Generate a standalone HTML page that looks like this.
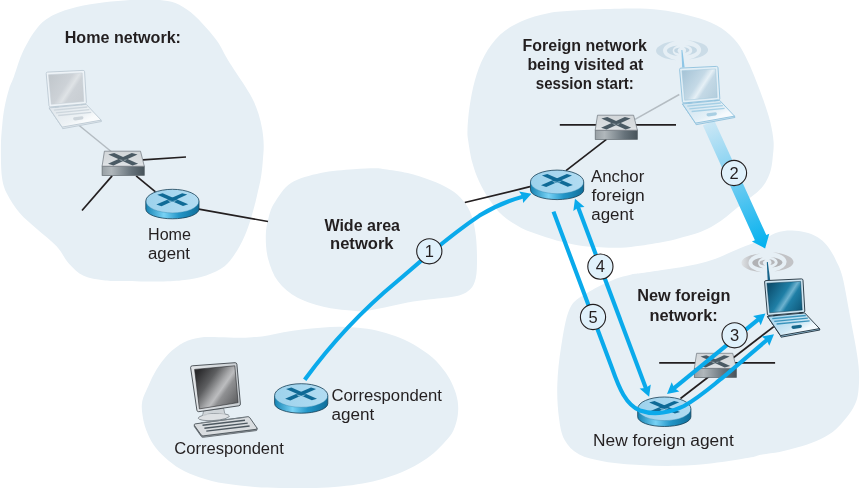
<!DOCTYPE html>
<html><head><meta charset="utf-8">
<style>
html,body{margin:0;padding:0;background:#fff;}
svg{display:block;}
text{font-family:"Liberation Sans",sans-serif;fill:#231f20;}
.b{font-weight:bold;}
</style></head><body>
<div style="will-change:transform;width:861px;height:488px;overflow:hidden">
<svg width="861" height="488" viewBox="0 0 861 488">
<defs>
  <linearGradient id="rside" x1="0" x2="1" y1="0" y2="0">
    <stop offset="0" stop-color="#1583b3"/><stop offset="0.34" stop-color="#78d2f5"/><stop offset="0.62" stop-color="#2396c8"/><stop offset="1" stop-color="#0f6e9a"/>
  </linearGradient>
  <linearGradient id="rtop" x1="0" x2="1" y1="0" y2="0">
    <stop offset="0" stop-color="#9dd2ec"/><stop offset="1" stop-color="#b2dcf2"/>
  </linearGradient>
  <linearGradient id="sfront" x1="0" x2="1" y1="0" y2="0">
    <stop offset="0" stop-color="#98a0a5"/><stop offset="0.22" stop-color="#b0b7bb"/><stop offset="0.7" stop-color="#66727a"/><stop offset="1" stop-color="#48545b"/>
  </linearGradient>
  <linearGradient id="stop" x1="0" x2="0" y1="0" y2="1">
    <stop offset="0" stop-color="#d2d6d9"/><stop offset="0.8" stop-color="#dadee1"/><stop offset="1" stop-color="#e6e9eb"/>
  </linearGradient>
  <linearGradient id="a2" gradientUnits="userSpaceOnUse" x1="708.6" y1="123" x2="765" y2="248">
    <stop offset="0" stop-color="#cbe7f5"/><stop offset="0.4" stop-color="#7fd0f2"/><stop offset="0.78" stop-color="#2ebcf0"/><stop offset="1" stop-color="#00b0ee"/>
  </linearGradient>
  <g id="router">
    <path d="M-26.6,0 v8 a26.6,9.7 0 0 0 53.2,0 v-8 z" fill="url(#rside)"/>
    <ellipse cx="0" cy="0" rx="26.6" ry="11.8" fill="url(#rtop)"/>
    <path d="M-26.6,8 a26.6,9.7 0 0 0 53.2,0 v-8 a26.6,11.8 0 0 0 -53.2,0 z" fill="none" stroke="#173f55" stroke-width="0.8"/>
    <path d="M-26.6,0 a26.6,11.8 0 0 0 53.2,0" fill="none" stroke="#2f86ae" stroke-width="0.4"/>
    <path d="M-15.2,-6.4 L-9.8,-7.9 L15.8,3.2 L10.6,4.8 Z" fill="#0f6a96"/>
    <path d="M9.8,-7.9 L14.9,-6.5 L-10.9,5.05 L-16.1,3.3 Z" fill="#0f6a96"/>
    <path d="M-5.2,-1.15 L0,-0.1 L-2.3,1.15 Z M4.9,-1.15 L0,-0.1 L2,0.9 Z" fill="#7ab4d0"/>
  </g>
  <g id="switch">
    <rect x="-21.1" y="7.5" width="42.2" height="9.2" fill="url(#sfront)" stroke="#5f686e" stroke-width="0.7"/>
    <path d="M-18.8,-7.5 L17.3,-7.5 L21.1,7.5 L-21.1,7.5 Z" fill="url(#stop)" stroke="#6e767c" stroke-width="0.7" stroke-linejoin="round"/>
    <path d="M-14.9,-4.2 L-9,-5.6 L14.9,5.1 L9.3,6.7 Z" fill="#4a5a64"/>
    <path d="M-15.2,5.1 L-9.7,6.7 L14.3,-4.2 L8.6,-5.6 Z" fill="#4a5a64"/>
    <path d="M-4.5,0.6 L0,1.3 L-2,2.4 Z M4.3,0.6 L0,1.3 L1.8,2.3 Z" fill="#93a0a7"/>
  </g>
</defs>
<g fill="#e6eff5">
<path id="homeblob" d="M104.5,2.3 C113.4,1.1 122.9,0.5 130.0,0.0 C137.1,-0.5 142.0,-0.8 147.0,-0.8 C152.0,-0.8 155.3,-0.6 160.0,0.0 C164.7,0.6 170.3,0.9 175.4,3.0 C180.5,5.1 185.7,8.2 190.8,12.3 C195.9,16.4 201.6,22.6 206.2,27.7 C210.8,32.8 215.2,38.1 218.5,43.0 C221.8,47.9 223.6,52.6 226.2,57.0 C228.8,61.4 231.0,64.9 233.8,69.2 C236.6,73.5 239.9,78.1 243.0,83.0 C246.1,87.9 249.7,93.4 252.3,98.5 C254.9,103.6 256.9,108.7 258.5,113.8 C260.1,118.9 261.3,124.0 262.2,129.2 C263.1,134.4 263.6,140.1 263.7,145.0 C263.8,149.9 263.4,153.2 263.0,158.5 C262.6,163.8 262.0,170.8 261.0,177.0 C260.0,183.2 258.4,189.3 257.0,195.4 C255.6,201.5 254.1,207.7 252.3,213.8 C250.5,220.0 248.8,226.1 246.2,232.3 C243.6,238.5 240.6,245.2 237.0,250.8 C233.4,256.4 229.7,262.1 224.6,266.2 C219.5,270.3 212.9,273.1 206.2,275.4 C199.5,277.7 192.3,279.0 184.6,280.0 C176.9,281.0 170.8,281.3 160.0,281.5 C149.2,281.7 129.4,281.2 120.0,281.0 C110.5,280.8 109.4,281.1 103.3,280.2 C97.2,279.3 89.3,278.5 83.6,275.7 C77.8,272.9 73.3,268.3 68.8,263.4 C64.3,258.5 61.9,251.9 56.6,246.2 C51.3,240.5 43.0,234.5 36.9,229.0 C30.7,223.5 24.6,218.7 19.7,213.0 C14.8,207.3 10.3,200.5 7.4,194.6 C4.5,188.7 3.1,185.3 2.0,177.4 C0.9,169.5 0.9,155.7 0.9,147.0 C0.9,138.3 1.6,132.1 2.2,125.4 C2.8,118.7 3.4,113.2 4.6,107.0 C5.8,100.8 7.6,93.5 9.2,88.5 C10.8,83.5 11.6,82.9 13.9,76.7 C16.2,70.5 19.3,59.2 23.2,51.1 C27.1,43.0 32.2,33.9 37.2,27.9 C42.2,21.9 46.8,18.6 53.4,15.1 C60.0,11.6 68.2,9.1 76.7,7.0 C85.2,4.9 95.6,3.5 104.5,2.3 Z"/>
<path id="wanblob" d="M265.8,235.4 C265.9,228.7 267.0,223.5 268.5,218.0 C270.0,212.5 270.9,208.4 274.7,202.6 C278.4,196.8 283.4,187.9 291.0,183.0 C298.6,178.1 310.2,175.3 320.6,173.0 C331.0,170.7 344.3,170.0 353.4,169.2 C362.5,168.4 369.8,168.2 375.0,168.2 C380.2,168.2 379.3,168.4 384.7,169.2 C390.1,170.0 400.0,171.2 407.6,173.1 C415.2,174.9 423.5,177.6 430.6,180.3 C437.7,183.0 444.7,186.1 450.2,189.5 C455.7,192.9 459.8,196.6 463.4,201.0 C467.0,205.4 469.5,210.0 471.6,215.7 C473.7,221.4 474.9,228.3 475.8,235.4 C476.7,242.5 477.0,251.3 477.0,258.4 C477.0,265.5 477.0,272.8 475.8,278.0 C474.6,283.2 473.2,286.5 470.0,289.5 C466.8,292.5 463.4,294.4 456.8,296.0 C450.2,297.6 438.8,298.2 430.6,299.3 C422.4,300.4 415.2,301.2 407.6,302.6 C400.0,304.0 391.8,306.1 384.7,307.5 C377.6,308.9 370.2,310.4 365.0,311.0 C359.8,311.6 359.7,311.4 353.4,310.8 C347.1,310.2 336.3,309.7 327.0,307.5 C317.7,305.3 305.8,302.1 297.6,297.7 C289.4,293.3 282.9,287.9 278.0,281.3 C273.1,274.8 270.0,266.0 268.0,258.4 C266.0,250.7 265.7,242.1 265.8,235.4 Z"/>
<path id="forblob" d="M467.5,130.0 C467.7,124.2 468.4,114.8 469.6,106.5 C470.9,98.2 472.6,88.3 475.0,79.9 C477.4,71.5 480.1,63.5 484.3,55.9 C488.5,48.3 494.1,40.4 500.3,34.6 C506.5,28.8 513.6,24.9 521.6,21.3 C529.6,17.8 539.3,15.1 548.2,13.3 C557.1,11.5 563.7,11.3 574.8,10.6 C585.9,9.8 602.7,9.1 614.7,8.8 C626.7,8.5 636.9,8.3 646.6,8.8 C656.4,9.3 664.3,10.4 673.2,12.0 C682.1,13.6 691.9,15.9 699.9,18.6 C707.9,21.3 715.0,24.0 721.2,28.0 C727.4,32.0 732.7,37.1 737.1,42.6 C741.5,48.1 744.7,55.0 747.8,61.2 C750.9,67.4 753.1,73.2 755.8,79.9 C758.5,86.6 761.4,94.1 763.8,101.2 C766.2,108.3 768.8,115.7 770.4,122.5 C772.0,129.3 773.2,136.0 773.6,142.0 C774.0,148.0 773.1,153.6 772.6,158.4 C772.1,163.2 771.7,167.0 770.5,171.0 C769.3,175.0 767.5,179.2 765.5,182.5 C763.5,185.8 761.3,188.3 758.5,191.0 C755.7,193.7 752.4,195.9 748.9,198.6 C745.4,201.3 741.5,204.2 737.8,207.2 C734.1,210.2 730.6,213.4 726.7,216.4 C722.8,219.4 718.7,222.4 714.4,225.0 C710.1,227.6 705.4,230.0 700.9,231.8 C696.4,233.7 692.4,234.7 687.4,236.1 C682.4,237.5 676.0,239.3 670.7,240.5 C665.4,241.7 660.5,242.4 655.4,243.3 C650.3,244.2 645.8,245.1 640.0,245.8 C634.2,246.6 627.6,247.6 620.9,247.8 C614.2,248.0 606.4,247.5 600.0,247.2 C593.6,246.9 589.1,246.9 582.7,246.0 C576.3,245.1 568.8,243.6 561.8,241.8 C554.8,240.1 547.6,237.8 540.9,235.5 C534.1,233.2 527.6,231.3 521.3,228.0 C515.0,224.7 508.2,220.5 502.9,215.8 C497.6,211.1 493.6,205.7 489.6,199.9 C485.6,194.1 481.9,187.4 479.0,181.2 C476.1,175.0 474.1,169.2 472.3,162.6 C470.5,155.9 469.1,146.7 468.3,141.3 C467.5,135.9 467.3,135.8 467.5,130.0 Z"/>
<path id="newblob" d="M785.6,230.7 C790.0,230.4 796.9,230.8 801.6,231.6 C806.3,232.4 810.4,233.8 813.9,235.3 C817.4,236.8 819.8,238.5 822.5,240.8 C825.2,243.2 827.6,246.1 829.9,249.4 C832.1,252.7 833.9,255.9 836.0,260.5 C838.1,265.1 840.2,267.8 842.5,277.0 C844.8,286.2 847.8,304.2 850.0,316.0 C852.2,327.8 854.5,338.7 856.0,348.0 C857.5,357.3 858.7,364.2 859.0,372.0 C859.3,379.8 858.9,388.9 857.9,394.8 C856.9,400.8 855.6,403.4 853.3,407.7 C851.0,412.0 847.4,416.6 844.0,420.6 C840.6,424.6 837.6,428.3 833.0,431.7 C828.4,435.1 822.2,438.3 816.4,440.9 C810.5,443.5 804.0,445.4 797.9,447.3 C791.8,449.2 785.6,450.8 779.5,452.0 C773.4,453.2 766.1,453.7 761.0,454.7 C755.9,455.7 756.8,456.4 748.7,457.8 C740.6,459.2 724.7,461.9 712.6,463.2 C700.5,464.5 688.5,465.5 676.4,465.8 C664.3,466.1 652.3,465.7 640.3,465.0 C628.3,464.3 614.4,463.2 604.2,461.4 C594.0,459.6 585.5,457.8 578.9,454.2 C572.3,450.6 567.8,445.7 564.5,439.7 C561.2,433.7 560.2,427.1 559.0,418.0 C557.8,408.9 556.9,396.8 557.3,384.8 C557.7,372.9 559.1,359.0 561.2,346.3 C563.3,333.6 565.6,317.3 569.8,308.5 C574.0,299.7 579.1,298.2 586.2,293.5 C593.3,288.8 605.0,283.4 612.5,280.2 C620.0,277.0 626.8,275.6 631.4,274.5 C636.0,273.4 635.1,274.0 640.0,273.3 C644.9,272.6 653.7,271.2 660.5,270.2 C667.3,269.2 674.2,268.4 681.0,267.2 C687.8,266.0 695.0,264.8 701.5,263.1 C708.0,261.4 714.3,259.1 720.0,256.9 C725.7,254.7 730.1,252.3 735.9,249.9 C741.7,247.5 749.5,244.6 754.7,242.5 C759.9,240.4 763.9,238.8 767.3,237.3 C770.7,235.8 772.0,234.4 775.0,233.3 C778.0,232.2 781.2,231.0 785.6,230.7 Z"/>
<path id="corblob" d="M142.3,401.0 C143.3,396.1 146.2,390.6 148.6,385.4 C150.9,380.2 153.2,375.0 156.4,369.8 C159.7,364.6 163.6,358.8 168.1,354.2 C172.6,349.6 178.5,345.2 183.7,342.5 C188.9,339.8 193.5,338.6 199.3,337.7 C205.1,336.8 212.2,337.2 218.7,337.2 C225.2,337.2 232.6,337.8 238.2,337.8 C243.8,337.8 247.5,337.5 252.0,337.2 C256.5,336.9 259.7,336.8 265.0,336.0 C270.3,335.2 277.4,333.4 283.6,332.3 C289.8,331.2 296.0,330.3 302.2,329.5 C308.4,328.7 314.6,328.2 320.8,327.7 C327.0,327.2 333.1,326.7 339.3,326.7 C345.5,326.7 351.7,327.1 357.9,327.7 C364.1,328.3 370.3,329.0 376.5,330.4 C382.7,331.8 388.9,333.7 395.1,336.0 C401.3,338.3 407.5,340.8 413.7,344.4 C419.9,348.0 427.1,352.9 432.4,357.5 C437.7,362.1 441.8,367.2 445.3,372.1 C448.8,377.0 451.3,381.8 453.4,386.7 C455.5,391.6 457.0,396.4 457.7,401.3 C458.4,406.2 458.4,411.0 457.7,415.8 C457.0,420.6 455.4,426.2 453.4,430.4 C451.4,434.6 449.0,437.3 445.7,441.1 C442.4,444.9 438.1,449.4 433.6,453.2 C429.1,457.0 424.0,460.5 418.5,463.8 C413.0,467.1 406.4,470.3 400.4,472.8 C394.4,475.3 388.6,477.1 382.3,478.9 C376.0,480.7 369.7,482.1 362.6,483.4 C355.6,484.6 348.8,485.6 340.0,486.4 C331.2,487.2 320.0,487.9 310.0,488.2 C300.0,488.4 289.0,488.1 279.8,487.9 C270.6,487.7 263.9,487.6 254.8,486.9 C245.7,486.2 234.0,485.2 224.9,483.6 C215.8,482.0 207.5,479.9 200.0,477.4 C192.5,474.9 185.8,472.0 180.0,468.7 C174.2,465.4 169.4,461.3 165.0,457.4 C160.6,453.4 156.8,449.6 153.7,445.0 C150.6,440.4 148.1,435.0 146.2,430.0 C144.3,425.0 143.2,419.8 142.5,415.0 C141.8,410.2 141.3,405.9 142.3,401.0 Z"/>
</g>
<g stroke="#231f20" stroke-width="1.7" fill="none" stroke-linecap="butt">
<line x1="142.9" y1="159.9" x2="186" y2="157"/>
<line x1="112.1" y1="175.9" x2="82" y2="210.5"/>
<line x1="136.1" y1="175.9" x2="155.5" y2="191.8"/>
<line x1="198.8" y1="209.1" x2="268" y2="221.5"/>
<line x1="464.8" y1="202.5" x2="530" y2="186.7"/>
<line x1="559.8" y1="124.8" x2="676" y2="124.8"/>
<line x1="606.4" y1="139.4" x2="566" y2="170.6"/>
<line x1="659.2" y1="362.8" x2="775.1" y2="362.8"/>
<line x1="680.5" y1="398.5" x2="773.8" y2="326.6"/>
</g>
<g stroke="#b4bcc2" stroke-width="1.5" fill="none">
<line x1="79.2" y1="125.5" x2="113" y2="153"/>
<line x1="679.3" y1="94.5" x2="635" y2="119.3"/>
</g>
<path d="M702.9,125.6 L714.3,120.4 L766.3,235.1 L769.3,233.8 L765.1,248.4 L751.9,241.6 L754.9,240.3 Z" fill="url(#a2)"/>
<g transform="translate(681.9,50.2)"><path d="M-7.0,-8.9 A25.80,9.74 0 0 0 -5.5,10 A18.80,10.02 0 0 1 -7.0,-8.9 Z " fill="#cbdce7"/><path d="M5.5,-10 A26.20,9.89 0 0 1 7,9.2 A19.20,10.15 0 0 0 5.5,-10 Z " fill="#cbdce7"/><path d="M-4.4,-4.8 A15.10,5.58 0 0 0 -4.1,5.9 A9.20,6.03 0 0 1 -4.4,-4.8 Z M3.3,-5.2 A15.10,5.40 0 0 1 4.8,5.2 A10.30,5.66 0 0 0 3.3,-5.2 Z " fill="#c6d9e5"/><path d="M-1.8,-2.6 A7.70,3.05 0 0 0 -2.2,3.3 A4.40,3.31 0 0 1 -1.8,-2.6 Z M1.8,-3 A7.40,2.96 0 0 1 3,2.6 A4.10,3.45 0 0 0 1.8,-3 Z " fill="#c2d6e3"/><path d="M-0.5,-0.3 L0.5,-0.3 L2.75,17.40 L0.25,17.40 Z" fill="#8ec6e6"/></g><g transform="translate(679.3,67.9)"><linearGradient id="lfscr" gradientUnits="userSpaceOnUse" x1="4" y1="6" x2="38" y2="28">
<stop offset="0" stop-color="#a9c6d8"/><stop offset="0.42" stop-color="#c4d9e6"/><stop offset="0.56" stop-color="#e6f0f6"/><stop offset="0.66" stop-color="#c4d9e6"/><stop offset="1" stop-color="#b4cedd"/></linearGradient>
<linearGradient id="lfbase" gradientUnits="userSpaceOnUse" x1="20" y1="34" x2="30" y2="54">
<stop offset="0" stop-color="#d3e6f1"/><stop offset="0.7" stop-color="#e4f0f7"/><stop offset="1" stop-color="#f6fafd"/></linearGradient><path d="M1.6,0.2 L37.2,-1.5 Q38.6,-1.5 38.7,-0.2 L40.5,30.6 Q40.5,31.8 39.2,32 L4.6,35 Q3.3,35 3.1,33.8 L0.3,1.6 Q0.2,0.3 1.6,0.2 Z" fill="#e3eff6" stroke="#8fc1dd" stroke-width="0.9" stroke-linejoin="round"/><path d="M2.6,2.8 L36.3,1.0 L37.9,29.6 L5.4,32.4 Z" fill="url(#lfscr)" stroke="#9cc4da" stroke-width="0.5"/><path d="M3.2,36.2 L16.2,55.4 L16.8,56.8 L55.6,49.6 L55.2,48.2 Z" fill="#cfe4f0" stroke="#8fc1dd" stroke-width="0.9" stroke-linejoin="round"/><path d="M3.2,36 L40.4,32.5 L55.2,48.2 L16.2,55.2 Z" fill="url(#lfbase)" stroke="#8fc1dd" stroke-width="0.9" stroke-linejoin="round"/><path d="M9,35.2 L13,34.9 M35,32.7 L38.5,32.4" stroke="#8fc1dd" stroke-width="1.1"/><g stroke="#a5cfe5" stroke-width="1.3" fill="none"><path d="M8,38.2 L41.5,35.1"/><path d="M10,40.9 L43.5,37.8"/><path d="M12.3,43.6 L45.3,40.5"/></g><path d="M28.2,45.3 L36.2,44.4 Q37.6,44.5 37.6,45.8 Q37.4,47.4 36,47.7 L29.2,48.5 Q27.6,48.4 27.2,47.1 Q27.1,45.6 28.2,45.3 Z" fill="#a9cfe3"/></g><g transform="translate(45.9,71.9)"><linearGradient id="lhscr" gradientUnits="userSpaceOnUse" x1="4" y1="6" x2="38" y2="28">
<stop offset="0" stop-color="#c2c8cd"/><stop offset="0.42" stop-color="#cdd2d7"/><stop offset="0.56" stop-color="#dfe3e6"/><stop offset="0.66" stop-color="#cdd2d7"/><stop offset="1" stop-color="#c8cdd2"/></linearGradient>
<linearGradient id="lhbase" gradientUnits="userSpaceOnUse" x1="20" y1="34" x2="30" y2="54">
<stop offset="0" stop-color="#e3e9ee"/><stop offset="0.7" stop-color="#edf2f5"/><stop offset="1" stop-color="#f9fbfc"/></linearGradient><path d="M1.6,0.2 L37.2,-1.5 Q38.6,-1.5 38.7,-0.2 L40.5,30.6 Q40.5,31.8 39.2,32 L4.6,35 Q3.3,35 3.1,33.8 L0.3,1.6 Q0.2,0.3 1.6,0.2 Z" fill="#eef3f7" stroke="#bccad4" stroke-width="0.9" stroke-linejoin="round"/><path d="M2.6,2.8 L36.3,1.0 L37.9,29.6 L5.4,32.4 Z" fill="url(#lhscr)" stroke="#c3cdd5" stroke-width="0.5"/><path d="M3.2,36.2 L16.2,55.4 L16.8,56.8 L55.6,49.6 L55.2,48.2 Z" fill="#e2e9ee" stroke="#bccad4" stroke-width="0.9" stroke-linejoin="round"/><path d="M3.2,36 L40.4,32.5 L55.2,48.2 L16.2,55.2 Z" fill="url(#lhbase)" stroke="#bccad4" stroke-width="0.9" stroke-linejoin="round"/><path d="M9,35.2 L13,34.9 M35,32.7 L38.5,32.4" stroke="#bccad4" stroke-width="1.1"/><g stroke="#cdd6dd" stroke-width="1.3" fill="none"><path d="M8,38.2 L41.5,35.1"/><path d="M10,40.9 L43.5,37.8"/><path d="M12.3,43.6 L45.3,40.5"/></g><path d="M28.2,45.3 L36.2,44.4 Q37.6,44.5 37.6,45.8 Q37.4,47.4 36,47.7 L29.2,48.5 Q27.6,48.4 27.2,47.1 Q27.1,45.6 28.2,45.3 Z" fill="#cdd5db"/></g><g transform="translate(190.5,365.7)">
<linearGradient id="monscr" gradientUnits="userSpaceOnUse" x1="6" y1="8" x2="46" y2="36">
<stop offset="0" stop-color="#2a2a2c"/><stop offset="0.3" stop-color="#5d5e60"/><stop offset="0.52" stop-color="#a7a8aa"/><stop offset="0.6" stop-color="#bcbdbf"/><stop offset="0.7" stop-color="#8f9092"/><stop offset="1" stop-color="#626365"/></linearGradient>
<linearGradient id="monbez" x1="0" x2="1" y1="0" y2="0"><stop offset="0" stop-color="#e3e6e9"/><stop offset="1" stop-color="#c9ced2"/></linearGradient>
<path d="M13,45.2 L33.2,42.6 L34.4,48.6 L12.2,49.6 Z" fill="#cfd4d8" stroke="#6a7278" stroke-width="0.6" stroke-linejoin="round"/>
<ellipse cx="23.3" cy="51.4" rx="15.6" ry="3.4" transform="rotate(-4 23.3 51.4)" fill="#dde0e3" stroke="#6a7278" stroke-width="0.7"/>
<path d="M12.4,49.4 L34.2,48.2" stroke="#dde0e3" stroke-width="1.4"/>
<path d="M1.8,0.1 L44.6,-3 Q46.2,-3 46.4,-1.4 L49.9,38.2 Q50,39.8 48.4,40.1 L8.2,46 Q6.7,46.1 6.4,44.5 L0.1,1.9 Q0,0.3 1.8,0.1 Z" fill="url(#monbez)" stroke="#3f464c" stroke-width="0.9" stroke-linejoin="round"/>
<path d="M4.1,3.7 L44.3,0.1 L47.6,36.9 L8.9,43.2 Z" fill="url(#monscr)" stroke="#26292c" stroke-width="0.6"/>
<path d="M3.8,59.6 L10.7,69.3 Q11.4,70.3 12.6,70.2 L65.6,63.6 Q66.8,63.3 66.4,62.2 L66.6,63.6 Q66.9,64.6 65.7,64.9 L12.7,71.6 Q11.4,71.7 10.7,70.7 L3.9,61 Z" fill="#aab1b7" stroke="#4a5258" stroke-width="0.7" stroke-linejoin="round"/>
<path d="M4.6,58.2 L57.4,51 Q58.6,51 59.3,52 L66.4,62.2 Q66.8,63.3 65.6,63.6 L12.6,70.2 Q11.4,70.3 10.7,69.3 L3.8,59.6 Q3.4,58.5 4.6,58.2 Z" fill="#d9dde0" stroke="#4a5258" stroke-width="0.9" stroke-linejoin="round"/>
<g stroke="#4d5860" stroke-width="1.4"><path d="M10.3,57.1 L52.8,51.9" stroke-width="0.9" stroke="#7a848b"/><path d="M12,59.6 L54.5,54.6"/><path d="M13.9,62.5 L57.2,57.4"/><path d="M15.8,65.4 L59.1,60.3"/></g>
</g><use href="#switch" x="123.2" y="158.7"/>
<use href="#switch" x="616.3" y="122.7"/>
<use href="#router" x="172.4" y="201.1"/>
<use href="#router" x="301.2" y="395.5"/>
<use href="#router" x="557.1" y="181.9"/>
<use href="#switch" x="715.4" y="360.8"/>
<use href="#router" x="664.3" y="408.8"/>
<g transform="translate(767.3,262.3)"><linearGradient id="wng" gradientUnits="userSpaceOnUse" x1="-26" y1="0" x2="-17" y2="0"><stop offset="0" stop-color="#dfe3e6"/><stop offset="1" stop-color="#c2c3c6"/></linearGradient><path d="M-7.0,-8.9 A25.80,9.74 0 0 0 -5.5,10 A18.80,10.02 0 0 1 -7.0,-8.9 Z " fill="url(#wng)"/><path d="M5.5,-10 A26.20,9.89 0 0 1 7,9.2 A19.20,10.15 0 0 0 5.5,-10 Z " fill="#c2c3c6"/><path d="M-4.4,-4.8 A15.10,5.58 0 0 0 -4.1,5.9 A9.20,6.03 0 0 1 -4.4,-4.8 Z M3.3,-5.2 A15.10,5.40 0 0 1 4.8,5.2 A10.30,5.66 0 0 0 3.3,-5.2 Z " fill="#b1b2b5"/><path d="M-1.8,-2.6 A7.70,3.05 0 0 0 -2.2,3.3 A4.40,3.31 0 0 1 -1.8,-2.6 Z M1.8,-3 A7.40,2.96 0 0 1 3,2.6 A4.10,3.45 0 0 0 1.8,-3 Z " fill="#b6b7ba"/><path d="M-0.5,-0.3 L0.5,-0.3 L2.85,17.70 L0.35,17.70 Z" fill="#17648a"/></g><g transform="translate(764.3,280.4)"><linearGradient id="lnscr" gradientUnits="userSpaceOnUse" x1="4" y1="6" x2="38" y2="28">
<stop offset="0" stop-color="#0c4e6e"/><stop offset="0.42" stop-color="#1f7fa6"/><stop offset="0.56" stop-color="#6db2cf"/><stop offset="0.66" stop-color="#1f7fa6"/><stop offset="1" stop-color="#0f5a7c"/></linearGradient>
<linearGradient id="lnbase" gradientUnits="userSpaceOnUse" x1="20" y1="34" x2="30" y2="54">
<stop offset="0" stop-color="#a9d6ee"/><stop offset="0.7" stop-color="#cfe8f5"/><stop offset="1" stop-color="#f2f9fd"/></linearGradient><path d="M1.6,0.2 L37.2,-1.5 Q38.6,-1.5 38.7,-0.2 L40.5,30.6 Q40.5,31.8 39.2,32 L4.6,35 Q3.3,35 3.1,33.8 L0.3,1.6 Q0.2,0.3 1.6,0.2 Z" fill="#cfe6f3" stroke="#1f2f3a" stroke-width="0.9" stroke-linejoin="round"/><path d="M2.6,2.8 L36.3,1.0 L37.9,29.6 L5.4,32.4 Z" fill="url(#lnscr)" stroke="#0b3a52" stroke-width="0.5"/><path d="M3.2,36.2 L16.2,55.4 L16.8,56.8 L55.6,49.6 L55.2,48.2 Z" fill="#9fd0ea" stroke="#1f2f3a" stroke-width="0.9" stroke-linejoin="round"/><path d="M3.2,36 L40.4,32.5 L55.2,48.2 L16.2,55.2 Z" fill="url(#lnbase)" stroke="#1f2f3a" stroke-width="0.9" stroke-linejoin="round"/><path d="M9,35.2 L13,34.9 M35,32.7 L38.5,32.4" stroke="#1f2f3a" stroke-width="1.1"/><g stroke="#3a94bc" stroke-width="1.3" fill="none"><path d="M8,38.2 L41.5,35.1"/><path d="M10,40.9 L43.5,37.8"/><path d="M12.3,43.6 L45.3,40.5"/></g><path d="M28.2,45.3 L36.2,44.4 Q37.6,44.5 37.6,45.8 Q37.4,47.4 36,47.7 L29.2,48.5 Q27.6,48.4 27.2,47.1 Q27.1,45.6 28.2,45.3 Z" fill="#16688c"/></g><g stroke="#0aaaeb" stroke-width="4.1" fill="none">
<path d="M304.7,379.8 C330,345 360,312 397.5,281 C420,262 446,238 479.5,215.6 C495,206 509,200.5 523,196.6"/>
<path d="M577.8,206.5 L646.2,389"/>
<path d="M553.5,211.6 L612,368 C619,388 626,405 640,410.5 C655,416 672,412 684,406 C700,397 712,386 723.2,377.2 L767.5,339.5"/>
<path d="M673.5,388.6 L759,318.9"/>
</g>
<path d="M531.5,193.7 L523.1,203.0 L522.6,196.8 L519.1,191.6 Z" fill="#0aaaeb"/><path d="M575.0,198.7 L584.5,206.9 L578.3,207.5 L573.3,211.1 Z" fill="#0aaaeb"/><path d="M649.1,396.8 L639.6,388.6 L645.8,388.0 L650.8,384.4 Z" fill="#0aaaeb"/><path d="M765.4,313.6 L760.7,325.2 L758.1,319.5 L753.1,315.9 Z" fill="#0aaaeb"/><path d="M667.0,393.9 L671.7,382.3 L674.3,388.0 L679.3,391.6 Z" fill="#0aaaeb"/><path d="M774.0,334.2 L769.3,345.8 L766.7,340.2 L761.7,336.6 Z" fill="#0aaaeb"/><g fill="#e0f1fb" stroke="#231f20" stroke-width="1.1">
<circle cx="429.3" cy="251.3" r="12.6"/>
<circle cx="734" cy="173" r="12.6"/>
<circle cx="734.6" cy="335.3" r="12.6"/>
<circle cx="600.4" cy="266.6" r="12.6"/>
<circle cx="593" cy="317" r="12.6"/>
</g>
<g font-size="16.5" text-anchor="middle">
<text x="429.3" y="257.3">1</text>
<text x="734" y="179">2</text>
<text x="734.6" y="341.2">3</text>
<text x="600.4" y="272.3">4</text>
<text x="593" y="323">5</text>
</g>
<g font-size="15">
<text class="b" font-size="15.6" x="64.7" y="42.6" textLength="116.3" lengthAdjust="spacingAndGlyphs">Home network:</text>
<text font-size="16" x="148" y="240" textLength="43" lengthAdjust="spacingAndGlyphs">Home</text>
<text font-size="16" x="148" y="258.7" textLength="42" lengthAdjust="spacingAndGlyphs">agent</text>
<text class="b" font-size="15.6" x="324.4" y="230.6" textLength="75.6" lengthAdjust="spacingAndGlyphs">Wide area</text>
<text class="b" font-size="15.6" x="330" y="249.3" textLength="63.6" lengthAdjust="spacingAndGlyphs">network</text>
<text font-size="16" x="591" y="181.5" textLength="53.3" lengthAdjust="spacingAndGlyphs">Anchor</text>
<text font-size="16" x="591.5" y="201" textLength="53.3" lengthAdjust="spacingAndGlyphs">foreign</text>
<text font-size="16" x="591.3" y="220" textLength="42.3" lengthAdjust="spacingAndGlyphs">agent</text>
<text font-size="16" x="331.5" y="400.8" textLength="110.4" lengthAdjust="spacingAndGlyphs">Correspondent</text>
<text font-size="16" x="331.5" y="420.1" textLength="42.8" lengthAdjust="spacingAndGlyphs">agent</text>
<text font-size="16" x="174.3" y="453.6" textLength="109.6" lengthAdjust="spacingAndGlyphs">Correspondent</text>
<text font-size="16" x="593.1" y="446.3" textLength="140.6" lengthAdjust="spacingAndGlyphs">New foreign agent</text>
<text class="b" font-size="15.6" x="637.2" y="301.3" textLength="93.3" lengthAdjust="spacingAndGlyphs">New foreign</text>
<text class="b" font-size="15.6" x="649.4" y="321" textLength="68.4" lengthAdjust="spacingAndGlyphs">network:</text>
<text class="b" font-size="15.6" x="522.5" y="50.6" textLength="124.3" lengthAdjust="spacingAndGlyphs">Foreign network</text>
<text class="b" font-size="15.6" x="527.4" y="70.1" textLength="116" lengthAdjust="spacingAndGlyphs">being visited at</text>
<text class="b" font-size="15.6" x="535.8" y="89.2" textLength="98" lengthAdjust="spacingAndGlyphs">session start:</text>
</g>
</svg>
</div>
</body></html>
